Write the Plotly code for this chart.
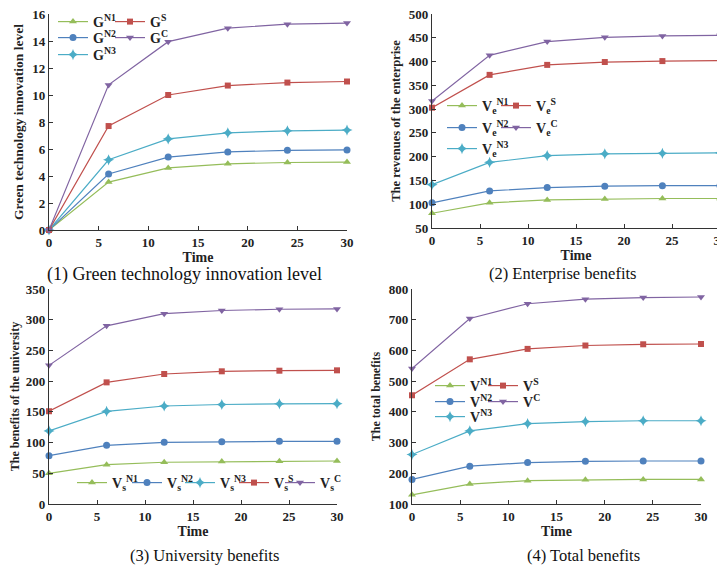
import plotly.graph_objects as go

# the page body keeps its default 8px margin, so the figure is drawn 8px in
OFF = 8
W, H = 725 - OFF, 570 - OFF

# ---------------- data ----------------
time = [0, 6, 12, 18, 24, 30]

# (1) Green technology innovation level
g_n1 = [0, 3.55, 4.6, 4.9, 5.0, 5.03]
g_n2 = [0, 4.15, 5.4, 5.78, 5.9, 5.93]
g_n3 = [0, 5.2, 6.75, 7.2, 7.35, 7.4]
g_s = [0, 7.7, 10.0, 10.7, 10.92, 11.0]
g_c = [0, 10.75, 13.95, 14.95, 15.25, 15.33]

# (2) Enterprise benefits
ve_n1 = [81, 103, 109, 111, 112, 112]
ve_n2 = [103, 128, 135, 138, 139, 139]
ve_n3 = [141, 188, 202, 206, 207, 208]
ve_s = [303, 372, 393, 399, 401, 402]
ve_c = [317, 413, 442, 451, 454, 455]

# (3) University benefits
vs_n1 = [50, 64, 68, 69, 69.5, 70]
vs_n2 = [78.7, 95.5, 100.4, 101.5, 102, 102]
vs_n3 = [119, 150.8, 159.5, 162, 163, 163.3]
vs_s = [151, 198, 211.6, 216, 217, 217.6]
vs_c = [225.7, 290, 309.8, 315, 317, 317.5]

# (4) Total benefits
v_n1 = [130, 165, 176, 179, 180, 180]
v_n2 = [180, 223, 235, 239, 240, 240]
v_n3 = [261, 338, 362, 368.5, 371, 371]
v_s = [454, 571, 605, 616, 620, 621]
v_c = [541, 704, 752, 767, 772, 774]

series_keys = ["N1", "N2", "N3", "S", "C"]
panel_values = [
    [g_n1, g_n2, g_n3, g_s, g_c],
    [ve_n1, ve_n2, ve_n3, ve_s, ve_c],
    [vs_n1, vs_n2, vs_n3, vs_s, vs_c],
    [v_n1, v_n2, v_n3, v_s, v_c],
]
panel_names = [
    ["G<sup>N1</sup>", "G<sup>N2</sup>", "G<sup>N3</sup>", "G<sup>S</sup>", "G<sup>C</sup>"],
    ["V<sub>e</sub><sup>N1</sup>", "V<sub>e</sub><sup>N2</sup>", "V<sub>e</sub><sup>N3</sup>",
     "V<sub>e</sub><sup>S</sup>", "V<sub>e</sub><sup>C</sup>"],
    ["V<sub>s</sub><sup>N1</sup>", "V<sub>s</sub><sup>N2</sup>", "V<sub>s</sub><sup>N3</sup>",
     "V<sub>s</sub><sup>S</sup>", "V<sub>s</sub><sup>C</sup>"],
    ["V<sup>N1</sup>", "V<sup>N2</sup>", "V<sup>N3</sup>", "V<sup>S</sup>", "V<sup>C</sup>"],
]
y_titles = ["Green technology innovation level", "The revenues of the enterprise",
            "The benefits of the university", "The total benefits"]
subtitles = ["(1) Green technology innovation level", "(2) Enterprise benefits",
             "(3) University benefits", "(4) Total benefits"]
y_ranges = [[0, 16], [50, 500], [0, 350], [100, 800]]
y_dticks = [2, 50, 50, 100]
x_ticks = [0, 5, 10, 15, 20, 25, 30]

# ---------------- style ----------------
colors = {"N1": "#95bd5a", "N2": "#4f81bd", "N3": "#4bacc6", "S": "#c0504d", "C": "#8064a2"}
symbols = {"N1": "triangle-up", "N2": "circle", "N3": "star-diamond", "S": "square", "C": "triangle-down"}
msize = {"N1": 7, "N2": 7, "N3": 8, "S": 6, "C": 7}
SERIF = "Liberation Serif, Times New Roman, serif"

# plot areas in window pixels: (left, right, top, bottom)
areas = [(49, 347, 14, 230), (432, 720, 14, 228), (49, 337, 289, 504), (412, 701, 289, 504)]
title_sizes = [13.5, 12.5, 12, 12]
sub_sizes = [18, 16.5, 16.5, 16.5]
# legend anchor points (line start x, row centre y) in window pixels for each series
legend_pos = [
    [(58, 22), (58, 38), (58, 55), (115, 22), (115, 38)],
    [(447, 106), (447, 128), (447, 149), (501, 106), (501, 128)],
    [(77, 483), (132, 483), (185, 483), (239, 483), (285, 483)],
    [(435, 386), (435, 402), (435, 417), (488, 386), (488, 402)],
]
sub_pos = [(184, 274.5), (563, 274), (204, 555), (583, 555)]


def px(x):
    return (x - OFF) / W


def py(y):
    return 1 - (y - OFF) / H


fig = go.Figure()
layout = dict(width=W, height=H, margin=dict(l=0, r=0, t=0, b=0, autoexpand=False),
              paper_bgcolor="white", plot_bgcolor="white", showlegend=True,
              font=dict(family=SERIF, color="#111"))
annotations = []
leg_idx = 0
for p in range(4):
    sfx = "" if p == 0 else str(p + 1)
    l, r, t, b = areas[p]
    axis_common = dict(showline=True, linecolor="#333", linewidth=1.2, ticks="inside",
                       ticklen=4, tickcolor="#333", showgrid=False, zeroline=False,
                       mirror=False, automargin=False, ticklabeloverflow="allow",
                       tickfont=dict(family=SERIF, size=13, weight="bold", color="#222"))
    layout["xaxis" + sfx] = dict(axis_common, domain=[px(l), px(r)], range=[0, 30],
                                 tickvals=x_ticks, anchor="y" + sfx,
                                 title=dict(text="Time", standoff=2,
                                            font=dict(family=SERIF, size=14, weight="bold", color="#222")))
    layout["yaxis" + sfx] = dict(axis_common, domain=[py(b), py(t)], range=y_ranges[p],
                                 dtick=y_dticks[p], tick0=y_ranges[p][0], anchor="x" + sfx,
                                 title=dict(text=y_titles[p], standoff=5,
                                            font=dict(family=SERIF, size=title_sizes[p], weight="bold", color="#222")))
    for k, key in enumerate(series_keys):
        leg_idx += 1
        lname = "legend" if leg_idx == 1 else "legend" + str(leg_idx)
        lx, ly = legend_pos[p][k]
        layout[lname] = dict(x=px(lx - 5), y=py(ly), xanchor="left", yanchor="middle",
                             bgcolor="rgba(0,0,0,0)", borderwidth=0, itemwidth=30,
                             font=dict(family=SERIF, size=14, weight="bold", color="#222"))
        fig.add_trace(go.Scatter(
            x=time, y=panel_values[p][k], name=panel_names[p][k], mode="lines+markers",
            line=dict(color=colors[key], width=1.2),
            marker=dict(symbol=symbols[key], size=msize[key], color=colors[key]),
            xaxis="x" + sfx, yaxis="y" + sfx, legend=lname, cliponaxis=False))
    sx, sy = sub_pos[p]
    annotations.append(dict(text=subtitles[p], x=px(sx), y=py(sy), xref="paper", yref="paper",
                            showarrow=False, xanchor="center", yanchor="middle",
                            font=dict(family=SERIF, size=sub_sizes[p], color="#111")))

layout["annotations"] = annotations
fig.update_layout(**layout)
fig.write_html("out.html")
